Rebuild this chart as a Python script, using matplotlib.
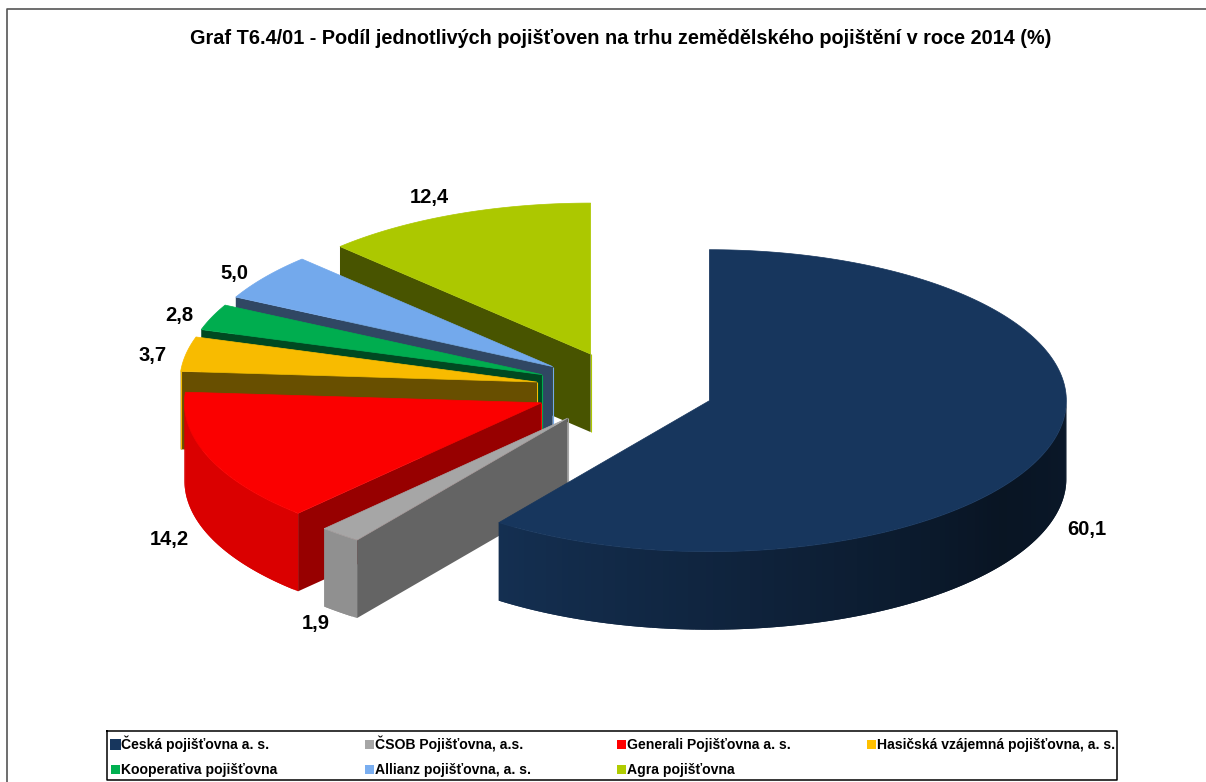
import matplotlib
matplotlib.use("Agg")
import matplotlib.pyplot as plt
import numpy as np
from matplotlib.colors import to_rgb

plt.rcParams['font.family'] = ['Liberation Sans', 'DejaVu Sans']

title = "Graf T6.4/01 - Podíl jednotlivých pojišťoven na trhu zemědělského pojištění v roce 2014 (%)"
names = ["Česká pojišťovna a. s.", "ČSOB Pojišťovna, a.s.", "Generali Pojišťovna a. s.",
         "Hasičská vzájemná pojišťovna, a. s.", "Kooperativa pojišťovna",
         "Allianz pojišťovna, a. s.", "Agra pojišťovna"]
values = [60.1, 1.9, 14.2, 3.7, 2.8, 5.0, 12.4]
value_labels = ["60,1", "1,9", "14,2", "3,7", "2,8", "5,0", "12,4"]

colors = ["#17365d", "#a6a6a6", "#fb0000", "#f8bb00", "#00ad4f", "#73a9ec", "#acc800"]
legend_colors = ["#17365d", "#a6a6a6", "#ff0000", "#ffc000", "#00b050", "#7aaef0", "#b0cc00"]

# pie geometry in image pixels
cx, cy = 624.5, 389
rx, ry = 357, 151
depth = 78
explode = 0.25

label_pos = [(1087, 530), (316, 623), (169, 540), (153, 356), (179, 316), (234, 273), (429, 198)]
legend_x = [111, 365, 617, 867]
legend_y = [749, 774]

fig = plt.figure(figsize=(12.06, 7.82), dpi=100)
ax = fig.add_axes([0, 0, 1, 1])
ax.set_xlim(0, 1206)
ax.set_ylim(782, 0)
ax.axis("off")


def shaded(color, k):
    return tuple(c * k for c in to_rgb(color))


def rim_shade(a):
    return np.interp(a, [90, 125, 216, 280], [0.45, 0.38, 0.87, 0.87])


def draw_slice(start, end, color, outer_line=False):
    mid = np.radians((start + end) / 2)
    ax0 = cx + explode * rx * np.sin(mid)
    ay0 = cy - explode * ry * np.cos(mid)

    def outer(a):
        r = np.radians(a)
        return ax0 + rx * np.sin(r), ay0 - ry * np.cos(r)

    # cut face, the end one always faces away (zorder 2 so everything stacks in call order)
    wall_k = np.interp(start, [223, 274], [0.6, 0.42])
    x, y = outer(start)
    ax.fill([ax0, x, x, ax0], [ay0, y, y + depth, ay0 + depth],
            color=shaded(color, wall_k), lw=0, zorder=2)
    if outer_line:
        ax.plot([x, x], [y, y + depth], color=color, lw=0.8, solid_capstyle="butt", zorder=2)
    ax.plot([ax0, ax0], [ay0, ay0 + depth], color=color, lw=0.8, solid_capstyle="butt", zorder=2)

    # outer rim, only the part turned to the viewer
    lo, hi = max(start, 90), min(end, 270)
    if hi > lo:
        steps = np.linspace(lo, hi, int(hi - lo) + 2)
        for n in range(len(steps) - 1):
            a0 = steps[n]
            a1 = steps[min(n + 2, len(steps) - 1)]  # overlap the next quad so no seams show
            arc = np.linspace(a0, a1, 6)
            xs, ys = outer(arc)
            ax.fill(np.r_[xs, xs[::-1]], np.r_[ys, ys[::-1] + depth],
                    color=shaded(color, rim_shade(steps[n] + (steps[1] - steps[0]) / 2)),
                    lw=0, zorder=2)

    # top face
    arc = np.linspace(start, end, 200)
    xs, ys = outer(arc)
    ax.fill(np.r_[ax0, xs], np.r_[ay0, ys], color=color, lw=0.5, zorder=2)


total = sum(values)
edges = np.cumsum([0] + values) / total * 360

# back slices first
for i in [6, 5, 4, 3, 2, 1, 0]:
    draw_slice(edges[i], edges[i + 1], colors[i], outer_line=(i == 3))

for (x, y), s in zip(label_pos, value_labels):
    ax.text(x, y, s, ha="center", va="center", fontsize=14.5, fontweight="bold", color="black", zorder=3)

ax.text(621, 38, title, ha="center", va="center", fontsize=14.3, fontweight="bold", color="black")

# outer frame
ax.plot([1206, 7, 7], [9, 9, 782], color="#555555", lw=1.2)

# legend
ax.plot([107, 1117, 1117, 107, 107], [731, 731, 780, 780, 731], color="black", lw=1.1)
for i, name in enumerate(names):
    x = legend_x[i % 4]
    y = legend_y[i // 4]
    size = 11 if i == 0 else 9
    ax.fill([x - size / 2 + 4, x + size / 2 + 4, x + size / 2 + 4, x - size / 2 + 4],
            [y - 5 - size / 2, y - 5 - size / 2, y - 5 + size / 2, y - 5 + size / 2],
            color=legend_colors[i], lw=0)
    ax.text(x + 10, y, name, ha="left", va="baseline", fontsize=10.1, fontweight="bold", color="black")

fig.savefig("out.png", dpi=100)
